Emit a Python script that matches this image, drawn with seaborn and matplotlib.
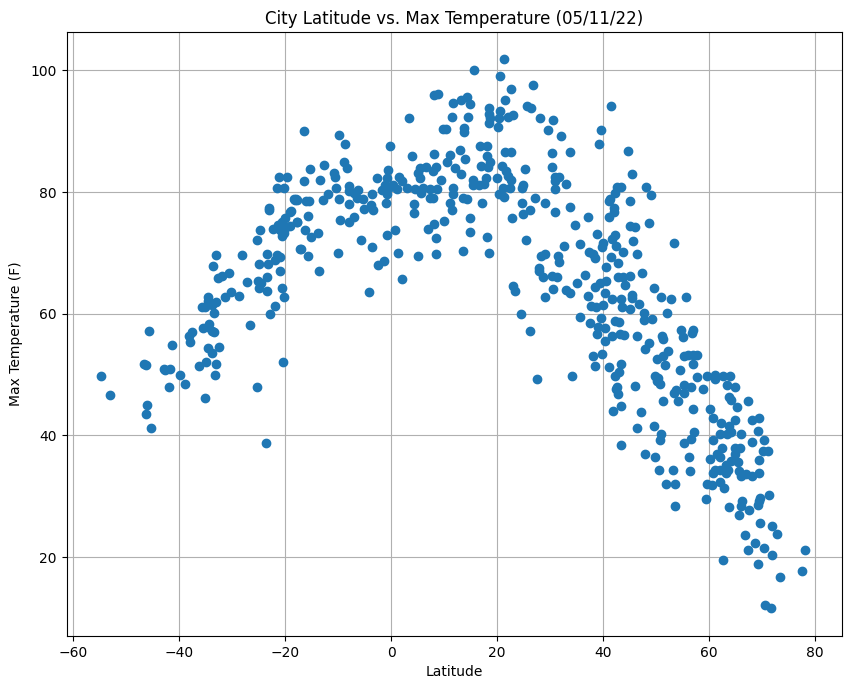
import matplotlib
matplotlib.use("Agg")
import matplotlib.pyplot as plt
import pandas as pd
import seaborn as sns

# values, roughly west to east
south_lat = [-54.7, -53.0, -45.8, -46.6, -46.2, -46.0, -46.2, -45.3, -41.3, -42.8, -42.6, -41.7, -39.8, -41.9, -39.0,
             -38.2, -37.6, -37.9, -36.2, -35.0, -35.1, -34.5, -33.9, -32.5, -33.0, -33.2, -35.5, -34.4, -34.5, -33.8,
             -33.5, -33.5, -35.7, -35.2, -34.5, -34.5, -33.9, -33.0, -33.7, -33.0, -32.6, -32.0, -30.7, -31.3, -30.2,
             -28.7, -28.1, -27.3, -26.6, -25.3, -20.4, -23.6, -22.8, -22.0, -20.2, -20.7, -23.5, -24.9, -25.1, -24.5,
             -23.5, -20.9, -24.9, -23.2, -21.9, -23.4, -21.5, -21.0, -25.3, -24.7, -22.3, -21.3, -20.7, -20.0, -21.0,
             -20.0, -20.7, -20.3, -23.0, -23.0, -21.5, -20.3, -21.1, -19.7, -19.1, -18.4, -17.9, -17.8, -17.2]
south_temp = [49.7, 46.6, 57.1, 51.8, 51.5, 45.0, 43.6, 41.3, 54.8, 50.9, 50.7, 51.0, 50.0, 48.0, 48.5,
              56.4, 57.0, 55.4, 51.4, 52.0, 46.2, 54.3, 53.6, 54.6, 51.8, 50.0, 57.7, 58.4, 57.9, 57.1,
              57.0, 60.1, 61.1, 61.1, 62.8, 62.1, 61.4, 62.0, 67.8, 69.6, 65.9, 66.2, 66.7, 62.8, 63.6,
              63.0, 69.7, 65.3, 58.2, 48.0, 52.0, 38.7, 59.9, 61.2, 62.7, 64.2, 63.7, 64.3, 65.4, 65.0,
              66.1, 67.1, 68.1, 68.1, 68.8, 69.9, 69.6, 69.4, 72.1, 73.7, 74.0, 74.6, 75.1, 75.7, 73.8,
              74.1, 72.8, 73.2, 77.4, 77.0, 80.6, 80.6, 82.4, 82.5, 76.8, 78.8, 78.8, 75.0, 70.6]

equator_lat = [-16.4, -9.8, -8.7, -9.0, -8.3, -12.6, -15.3, -16.4, -13.4, -10.8, -10.6, -10.4, -7.9, -7.9, -6.2,
               -7.0, -6.5, -5.4, -3.6, -2.6, -12.0, -12.8, -9.8, -7.9, -18.2, -17.7, -16.1, -15.5, -18.9, -15.7,
               -17.7, -19.1, -16.2, -15.1, -13.8, -17.0, -15.7, -13.6, -10.0, -9.6, -7.9, -7.0, -5.2, -3.8, -3.4,
               -0.9, -5.8, -3.6, -4.2, -0.8, 0.8, -2.5, -1.3, 1.3, 2.1, 5.1, 8.5, 13.6, 18.5, 7.0,
               8.1, 8.5, 10.0, 14.9, 14.9, 18.1, 22.8, 11.1, 11.5, 4.2, 4.2, 17.2, 13.6, 14.2, 11.7,
               11.7, 2.9, 4.5, 5.6, 6.0, 7.3, 8.6, 7.3, 7.9, 9.4, 5.1, 5.4, 6.5, 8.4, 7.9,
               5.4, 3.9, 8.1, 10.6, 11.0, 12.1, 13.2, 13.0, 14.0, 15.5, 15.5, 16.5, 17.5, 17.9, 17.0,
               18.3, 18.7, 18.1, 16.8, 18.0, 19.9, 20.9, 21.6, 22.1, 22.6, 21.1, 22.4, 20.4, 21.3, 21.5,
               22.6, 3.4, -0.2, -0.6, -1.8, -1.2, -0.8, -0.3, 0.4, -0.8, 1.0, 1.4, 2.1, 8.1, 8.9,
               11.7, 13.2, 14.3, 14.9, 15.7, 11.5, 14.5, 9.7, 10.3, 13.8, 13.8, 18.5, 18.5, 18.7, 18.5,
               20.5, 20.3, 20.2, 20.6, 21.3, 22.6, 21.5, 22.1, 22.9, 22.9, 23.4]
equator_temp = [90.0, 89.3, 87.9, 84.9, 83.9, 84.4, 83.8, 81.8, 82.0, 83.2, 82.5, 80.7, 81.0, 80.1, 80.4,
                79.8, 79.0, 78.9, 79.7, 82.3, 79.7, 78.7, 78.9, 78.0, 78.7, 78.7, 78.5, 78.6, 76.9, 76.1,
                75.1, 74.5, 73.8, 72.6, 73.3, 70.7, 69.5, 67.0, 70.0, 75.4, 75.1, 75.9, 77.2, 77.9, 77.0,
                78.2, 72.2, 71.0, 63.6, 72.9, 73.8, 68.0, 68.6, 70.0, 65.7, 69.5, 69.8, 70.3, 70.0, 73.9,
                74.8, 72.5, 75.2, 75.7, 73.4, 72.6, 75.7, 78.2, 77.0, 78.0, 76.6, 78.2, 79.0, 78.9, 79.7,
                80.7, 80.7, 80.5, 79.9, 80.7, 80.5, 80.5, 79.1, 79.0, 82.0, 83.1, 84.0, 84.1, 84.1, 83.4,
                82.3, 86.0, 86.2, 84.9, 86.1, 83.9, 83.0, 86.9, 85.4, 82.0, 81.1, 81.1, 81.3, 82.3, 84.3,
                84.1, 84.9, 85.9, 87.5, 87.5, 82.3, 84.2, 83.4, 82.6, 82.0, 80.7, 80.7, 79.7, 79.2, 86.6,
                86.6, 92.1, 87.5, 83.7, 80.4, 81.2, 82.3, 80.9, 81.2, 79.7, 80.5, 82.5, 81.8, 95.9, 96.1,
                94.6, 95.1, 95.6, 94.4, 100.0, 92.3, 92.3, 90.3, 90.3, 90.5, 89.8, 93.8, 92.9, 92.1, 91.4,
                93.4, 92.1, 90.7, 99.0, 101.8, 96.9, 95.2, 92.3, 92.6, 64.6, 63.8]

mid_lat = [26.8, 25.6, 26.4, 28.1, 30.6, 29.5, 32.1, 41.5, 39.6, 39.2, 44.7, 30.4, 33.8, 30.4, 25.3,
           31.7, 30.9, 30.9, 30.9, 32.9, 24.9, 24.7, 27.2, 24.7, 29.1, 26.2, 24.9, 30.9, 33.8, 37.2,
           34.7, 45.5, 42.6, 43.3, 42.3, 41.3, 41.1, 42.1, 42.1, 41.1, 45.1, 48.1, 49.1, 45.0, 46.0,
           48.7, 25.5, 38.9, 42.3, 41.7, 45.7, 35.7, 32.6, 40.0, 39.7, 42.5, 53.4, 43.8, 46.4, 28.2,
           29.1, 31.5, 31.7, 37.4, 38.1, 38.5, 41.5, 42.8, 40.6, 27.9, 27.9, 28.7, 30.4, 31.3, 36.6,
           42.8, 43.8, 45.0, 47.4, 40.6, 39.4, 38.4, 35.1, 44.2, 49.6, 30.6, 29.1, 32.9, 33.8, 37.2,
           40.4, 41.7, 43.3, 45.5, 45.5, 46.8, 50.9, 52.8, 55.7, 43.6, 45.1, 37.7, 38.7, 39.9, 52.1,
           47.7, 47.7, 49.2, 24.5, 35.7, 37.5, 39.5, 42.3, 43.0, 39.1, 40.3, 38.9, 41.7, 40.4, 43.1,
           44.0, 46.4, 26.2, 48.7, 47.9, 51.1, 51.3, 54.7, 55.1, 57.0, 56.8, 52.3, 51.3, 50.2, 51.7,
           54.4, 55.3, 56.0, 57.0, 57.6, 57.0, 38.1, 39.8, 38.5, 41.1, 43.4, 43.0, 42.3, 34.2, 27.5,
           49.8, 50.4, 57.7]
mid_temp = [97.6, 94.1, 93.8, 92.2, 91.8, 90.2, 89.2, 94.1, 90.2, 87.9, 86.7, 86.4, 86.6, 84.1, 83.8,
            82.5, 82.5, 81.8, 80.5, 81.3, 81.2, 80.7, 79.0, 78.2, 78.2, 77.0, 76.4, 76.7, 77.5, 75.9,
            74.6, 83.0, 80.8, 80.8, 79.8, 78.8, 78.5, 77.4, 76.7, 75.9, 78.5, 80.8, 79.5, 74.4, 74.2,
            74.9, 72.1, 73.1, 73.0, 72.3, 71.9, 71.5, 71.1, 71.6, 70.9, 71.1, 71.6, 70.1, 69.8, 69.5,
            69.8, 69.5, 68.5, 70.1, 69.8, 69.2, 69.3, 68.3, 67.7, 67.5, 67.1, 66.0, 66.2, 66.0, 66.4,
            66.0, 66.0, 66.2, 66.7, 65.4, 65.0, 64.4, 65.0, 64.8, 64.2, 64.1, 62.7, 63.9, 63.4, 62.9,
            63.4, 62.4, 62.4, 63.1, 62.6, 61.6, 62.7, 62.4, 62.7, 61.1, 60.8, 61.2, 61.1, 61.4, 60.1,
            60.1, 58.9, 59.1, 60.0, 59.5, 58.5, 59.3, 58.8, 58.6, 57.9, 57.6, 56.7, 56.3, 55.6, 56.7,
            56.5, 56.3, 57.2, 55.2, 54.2, 56.3, 55.8, 57.3, 56.2, 57.3, 56.8, 53.9, 53.0, 52.5, 51.6,
            50.7, 53.0, 53.2, 53.2, 53.2, 51.7, 53.0, 53.4, 51.4, 51.2, 51.7, 50.4, 49.8, 49.7, 49.2,
            49.7, 49.4, 49.6]

north_lat = [59.6, 61.1, 61.1, 62.6, 64.0, 63.4, 64.9, 50.2, 50.8, 46.0, 42.6, 42.5, 42.8, 43.4, 41.9,
             47.1, 46.4, 49.6, 50.9, 50.8, 43.4, 47.9, 49.8, 50.6, 53.2, 51.9, 53.6, 53.6, 55.3, 56.6,
             58.9, 53.8, 53.3, 55.3, 54.2, 51.3, 57.0, 60.2, 60.8, 63.8, 64.2, 65.3, 67.4, 62.3, 63.8,
             64.9, 68.1, 69.3, 69.2, 57.2, 56.6, 55.3, 56.2, 56.4, 60.8, 62.0, 63.4, 64.2, 66.0, 68.1,
             70.4, 62.5, 61.4, 62.0, 60.2, 64.8, 65.8, 64.8, 70.1, 71.0, 69.4, 65.5, 64.2, 63.1, 61.1,
             60.8, 62.0, 63.6, 63.1, 65.7, 66.0, 67.0, 68.1, 69.4, 59.6, 60.6, 62.0, 62.8, 59.4, 63.8,
             66.2, 66.0, 67.5, 65.7, 69.5, 69.4, 69.2, 71.3, 69.6, 71.9, 72.8, 66.8, 68.7, 67.4, 70.4,
             71.9, 78.1, 62.6, 69.2, 77.5, 73.4, 70.6, 71.7]
north_temp = [49.7, 50.0, 49.2, 49.8, 49.7, 48.3, 48.0, 49.0, 48.4, 48.2, 48.0, 47.7, 46.8, 44.9, 44.1,
              43.8, 41.3, 41.5, 40.2, 39.2, 38.4, 36.9, 36.4, 34.3, 34.4, 32.1, 32.0, 28.4, 48.3, 47.9,
              47.7, 47.4, 46.9, 46.9, 45.7, 45.6, 44.3, 44.3, 42.8, 46.4, 45.9, 44.6, 45.6, 42.0, 41.5,
              42.6, 42.6, 42.8, 40.8, 40.5, 39.5, 38.7, 36.4, 34.1, 39.2, 40.2, 40.2, 40.6, 40.3, 38.9,
              39.2, 37.9, 37.0, 36.5, 36.1, 37.9, 38.0, 36.9, 37.4, 37.4, 35.9, 35.6, 35.8, 35.2, 34.4,
              33.8, 34.4, 34.4, 33.8, 34.1, 33.4, 33.6, 33.3, 33.8, 32.0, 31.8, 32.3, 31.3, 29.5, 28.2,
              29.3, 28.4, 27.7, 26.9, 29.7, 29.2, 28.5, 30.3, 25.6, 25.1, 23.8, 23.6, 22.3, 21.1, 21.5,
              20.3, 21.1, 19.5, 18.8, 17.7, 16.7, 12.1, 11.6]

W, H = 850, 689

weather = pd.DataFrame({
    "Latitude": south_lat + equator_lat + mid_lat + north_lat,
    "Max Temperature (F)": south_temp + equator_temp + mid_temp + north_temp,
})

fig = plt.figure(figsize=(W / 100, H / 100), dpi=100)
ax = fig.add_axes([66.5 / W, (H - 636) / H, 775 / W, 603.7 / H])

sns.scatterplot(data=weather, x="Latitude", y="Max Temperature (F)", ax=ax,
                s=36, color="#1f77b4", edgecolor="face", linewidth=1.0)

ax.set_xlim(-61.28, 84.96)
ax.set_ylim(7.05, 106.25)
ax.set_xticks(range(-60, 81, 20))
ax.set_yticks(range(20, 101, 20))
ax.grid(True)
ax.set_axisbelow(True)
ax.yaxis.labelpad = 5
ax.set_title("City Latitude vs. Max Temperature (05/11/22)")

fig.savefig("out.png", dpi=100)
